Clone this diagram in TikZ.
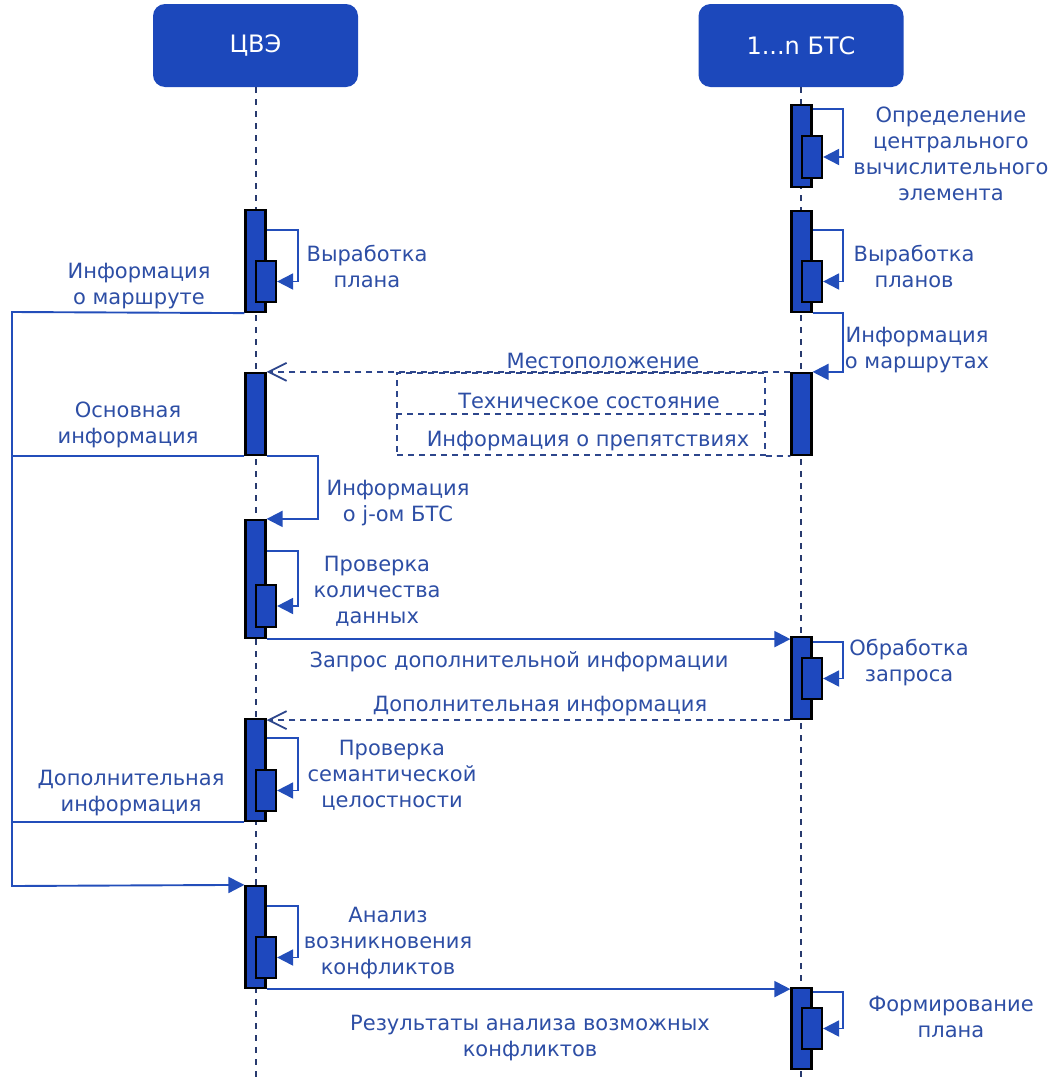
\documentclass[tikz,border=0pt]{standalone}
\usepackage{fontspec}
\setmainfont{DejaVu Sans}
\usetikzlibrary{arrows.meta,calc}
\definecolor{hdr}{RGB}{28,72,187}
\definecolor{barc}{RGB}{30,72,190}
\definecolor{msgc}{RGB}{35,78,186}
\definecolor{textc}{RGB}{45,78,165}
\definecolor{lifec}{RGB}{40,58,110}
\definecolor{retc}{RGB}{45,70,140}
\begin{document}
\begin{tikzpicture}[x=1pt,y=-1pt,
  hdrbox/.style={fill=hdr,rounded corners=12pt,minimum width=205pt,minimum height=83pt,text=white,font=\fontsize{24}{28}\selectfont,inner sep=0pt},
  life/.style={draw=lifec,line width=2pt,dash pattern=on 6pt off 6pt},
  bar/.style={fill=barc,draw=black,line width=2.2pt,minimum width=20pt,inner sep=0pt},
  msg/.style={draw=msgc,line width=1.9pt,-{Triangle[length=16pt,width=16pt]}},
  plain/.style={draw=msgc,line width=1.9pt},
  ret/.style={draw=retc,line width=1.8pt,dash pattern=on 6pt off 5pt,-{Straight Barb[length=18pt,width=18pt,line width=1.8pt]}},
  dline/.style={draw=retc,line width=1.8pt,dash pattern=on 6pt off 5pt},
  lbl/.style={text=textc,align=center,inner sep=0pt,font=\fontsize{21}{26}\selectfont}]
\useasboundingbox (0,0) rectangle (1063,1079);

% headers
\node[hdrbox] (cve) at (255.5,45.5) {ЦВЭ};
\node[hdrbox] (bts) at (801,45.5) {1...n БТС};
\coordinate (cend) at (256,1079);
\coordinate (bend) at (801,1079);
\draw[life] (cend |- cve.south) -- (cend);
\draw[life] (bts.south) -- (bend);

% activation bars CVE
\node[bar,minimum height=102pt] (c1) at (255.5,261) {};
\node[bar,minimum height=82pt]  (c2) at (255.5,414) {};
\node[bar,minimum height=118pt] (c3) at (255.5,579) {};
\node[bar,minimum height=102pt] (c4) at (255.5,770) {};
\node[bar,minimum height=102pt] (c5) at (255.5,937) {};
\node[bar,minimum height=41pt] (c1i) at (266,281.5) {};
\node[bar,minimum height=42pt] (c3i) at (266,606) {};
\node[bar,minimum height=41pt] (c4i) at (266,790.5) {};
\node[bar,minimum height=41pt] (c5i) at (266,957.5) {};

% activation bars BTS
\node[bar,minimum height=82pt]  (b1) at (801.5,146) {};
\node[bar,minimum height=101pt] (b2) at (801.5,261.5) {};
\node[bar,minimum height=82pt]  (b3) at (801.5,414) {};
\node[bar,minimum height=82pt]  (b4) at (801.5,678) {};
\node[bar,minimum height=81pt]  (b5) at (801.5,1028.5) {};
\node[bar,minimum height=42pt] (b1i) at (812,157) {};
\node[bar,minimum height=41pt] (b2i) at (812,281.5) {};
\node[bar,minimum height=41pt] (b4i) at (812,678.5) {};
\node[bar,minimum height=41pt] (b5i) at (812,1028.5) {};

% self loops
\draw[msg] ($(c1.north east)+(0,21)$) -- ++(31,0) |- (c1i.east);
\draw[msg] ($(c3.north east)+(0,32)$) -- ++(31,0) |- (c3i.east);
\draw[msg] ($(c4.north east)+(0,20)$) -- ++(31,0) |- (c4i.east);
\draw[msg] ($(c5.north east)+(0,21)$) -- ++(31,0) |- (c5i.east);
\draw[msg] ($(b1.north east)+(0,5)$) -- ++(30,0) |- (b1i.east);
\draw[msg] ($(b2.north east)+(0,20)$) -- ++(30,0) |- (b2i.east);
\draw[msg] ($(b4.north east)+(0,6)$) -- ++(30,0) |- (b4i.east);
\draw[msg] ($(b5.north east)+(0,5)$) -- ++(30,0) |- (b5i.east);

% left collector line
\coordinate (ltop) at (12,312);
\coordinate (lbot) at (12,886);
\draw[msg] (c1.south west) -- (ltop) -- (lbot) -- (c5.north west);
\draw[plain] (c2.south west) -- (c2.south west -| ltop);
\draw[plain] (c4.south west) -- (c4.south west -| ltop);

% info about j-th BTS
\draw[msg] (c2.south east) -- ++(51,0) |- (c3.north east);
% info about routes (BTS)
\draw[msg] (b2.south east) -- ++(30,0) |- (b3.north east);

% dashed return with box
\draw[ret] (b3.north west) -- (c2.north east);
\node[dline,minimum width=368pt,minimum height=82pt,inner sep=0pt] (fr) at (581,414) {};
\draw[dline] (fr.west) -- (fr.east);
\draw[dline] (fr.south east) -- (b3.south west);

% request / reply
\draw[msg] (c3.south east) -- (c3.south east -| b4.west);
\draw[ret] (b4.south west) -- (b4.south west -| c4.east);
\draw[msg] (c5.south east) -- (c5.south east -| b5.west);

% labels
\node[lbl] (t1) at (951,153.5) {Определение\\центрального\\вычислительного\\элемента};
\node[lbl] (t2) at (367,266.5) {Выработка\\плана};
\node[lbl] (t3) at (914,266.5) {Выработка\\планов};
\node[lbl] (t4) at (139,286.5) {Информация\\о маршруте};
\node[lbl] (t5) at (917,350) {Информация\\о маршрутах};
\node[lbl] (t6) at (603,361) {Местоположение};
\node[lbl] (t7) at (589,401) {Техническое состояние};
\node[lbl] (t8) at (588,441) {Информация о препятствиях};
\node[lbl] (t9) at (128,425) {Основная\\информация};
\node[lbl] (t10) at (398,503.5) {Информация\\о j-ом БТС};
\node[lbl] (t11) at (377,591) {Проверка\\количества\\данных};
\node[lbl] (t12) at (519,662) {Запрос дополнительной информации};
\node[lbl] (t13) at (909,663) {Обработка\\запроса};
\node[lbl] (t14) at (540,706) {Дополнительная информация};
\node[lbl] (t15) at (392,775.5) {Проверка\\семантической\\целостности};
\node[lbl] (t16) at (131,793.5) {Дополнительная\\информация};
\node[lbl] (t17) at (388,943.5) {Анализ\\возникновения\\конфликтов};
\node[lbl] (t18) at (530,1038) {Результаты анализа возможных\\конфликтов};
\node[lbl] (t19) at (951,1016.5) {Формирование\\плана};
\end{tikzpicture}
\end{document}
